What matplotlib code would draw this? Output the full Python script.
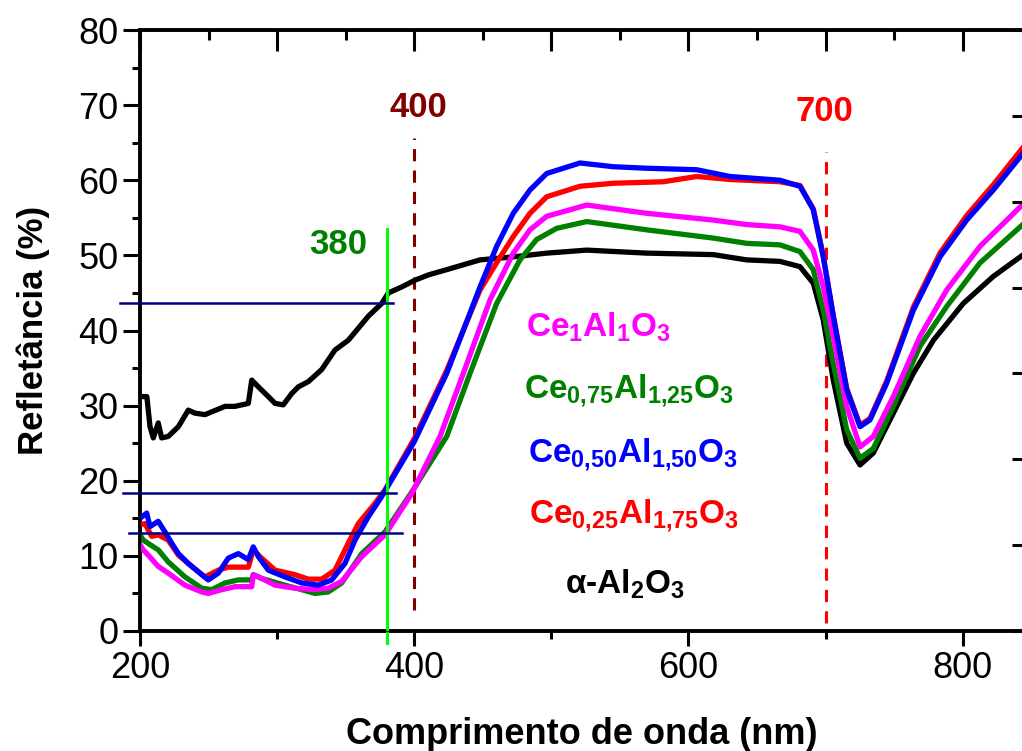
import matplotlib
matplotlib.use("Agg")
import matplotlib.pyplot as plt
from matplotlib.ticker import MultipleLocator


plt.rcParams['font.family'] = ['Liberation Sans', 'DejaVu Sans']
plt.rcParams['mathtext.fontset'] = 'custom'
plt.rcParams['mathtext.rm'] = 'Liberation Sans'
plt.rcParams['mathtext.bf'] = 'Liberation Sans:bold'
plt.rcParams['mathtext.default'] = 'bf'

#### data (wavelength nm, reflectance %) ####
wl_black = [201, 205, 207.3, 209.7, 213.3, 215.8, 220.6, 228, 235.2, 240, 247.4, 262, 269.3,
            279, 281.5, 286.3, 293.6, 298.5, 304.5, 310.6, 315.5, 322.8, 332.5, 342.2, 351.9,
            359.2, 366.5, 376.3, 381.1, 390.9, 400.6, 410.3, 423.7, 448, 472.2, 496.6, 525.8,
            569.5, 618.1, 642.5, 666.7, 681.3, 691, 698.3, 705.6, 715.4, 725.1, 734.8, 749.4,
            764, 778.6, 800.4, 822.3, 845]
r_black = [31.2, 31.2, 27.2, 25.7, 27.7, 25.7, 25.9, 27.2, 29.4, 29.0, 28.8, 29.9, 29.9,
           30.3, 33.4, 32.5, 31.2, 30.3, 30.1, 31.6, 32.5, 33.2, 34.8, 37.4, 38.7,
           40.3, 41.9, 43.6, 45.0, 45.8, 46.7, 47.4, 48.1, 49.4, 49.8, 50.3, 50.7,
           50.3, 50.1, 49.4, 49.2, 48.5, 46.3, 41.4, 33.4, 25.0, 22.1, 23.7, 29.0,
           34.3, 38.7, 43.6, 47.2, 50.2]

wl_blue = [200, 204.9, 207.3, 213.3, 218.2, 223.1, 228, 235.2, 245, 249.8, 257.1, 264.4, 271.7,
           279, 282.6, 286.3, 293.6, 305.7, 317.9, 330, 339.8, 349.5, 356.8, 366.5, 376.3,
           400, 423.7, 448, 460.1, 472.2, 484.4, 496.6, 520.9, 545.2, 569.5, 606, 630.3,
           666.7, 681.3, 691, 698.3, 705.6, 715.4, 725.1, 732.4, 744.6, 764, 783.4, 802.9,
           822.3, 845]
r_blue = [15.0, 15.7, 13.9, 14.6, 13.2, 11.7, 10.3, 9.0, 7.5, 6.8, 7.7, 9.7, 10.3,
          9.5, 11.2, 9.9, 8.1, 7.2, 6.4, 6.1, 6.8, 9.0, 12.1, 15.2, 17.9,
          25.2, 34.3, 45.8, 51.2, 55.6, 58.7, 60.9, 62.3, 61.8, 61.6, 61.4, 60.5,
          60.0, 59.2, 56.1, 49.8, 41.9, 32.1, 27.2, 28.1, 33.0, 42.7, 49.8, 54.7,
          58.7, 63.8]

wl_red = [200, 203.6, 208.5, 213.3, 220.6, 228, 237.7, 247.4, 257.1, 264.4, 279, 282.6, 288.7,
          298.5, 313, 322.8, 332.5, 342.2, 351.9, 359.2, 371.4, 378.7, 400, 423.7, 448,
          460, 472.2, 484.4, 496.6, 520.9, 545.2, 581.6, 606, 630.3, 666.7, 681.3, 691,
          698.3, 705.6, 715.4, 725.1, 732.4, 744.6, 764, 783.4, 802.9, 822.3, 845]
r_red = [14.1, 14.3, 12.6, 12.8, 12.1, 10.1, 8.6, 7.2, 8.1, 8.5, 8.5, 10.8, 9.7,
         8.1, 7.5, 6.9, 6.9, 8.1, 11.7, 14.3, 17.0, 18.8, 25.6, 34.7, 45.4,
         49.0, 52.5, 55.6, 57.8, 59.2, 59.6, 59.8, 60.5, 60.1, 59.8, 59.3, 56.2,
         49.9, 42.0, 32.3, 27.4, 28.3, 33.3, 43.1, 50.3, 55.3, 59.4, 64.6]

wl_mag = [200, 202.4, 206, 213.3, 220.6, 232.8, 245, 249.8, 259.6, 269.3, 281.5, 282.6, 288.7,
          298.5, 313, 327.6, 337.3, 347.1, 361.7, 378.7, 398.2, 418.8, 435.8, 455.3, 472.2,
          484.4, 496.6, 525.8, 569.5, 618.1, 642.5, 666.7, 681.3, 691, 698.3, 705.6, 715.4,
          725.1, 734.8, 749.4, 768.8, 788.3, 812.6, 845]
r_mag = [11.5, 10.8, 10.1, 8.6, 7.7, 6.1, 5.2, 5.0, 5.5, 5.9, 5.9, 7.5, 7.0,
         6.1, 5.7, 5.5, 5.7, 6.6, 9.9, 12.8, 18.3, 25.9, 34.3, 44.1, 50.3,
         53.4, 55.2, 56.7, 55.6, 54.7, 54.1, 53.8, 53.2, 50.7, 45.8, 39.2, 29.9,
         24.5, 25.9, 31.2, 39.2, 45.4, 51.2, 57.0]

wl_green = [200, 202.4, 207.3, 213.3, 220.6, 232.8, 245, 252.3, 262, 271.7, 281.5, 282.6, 288.7,
            305.7, 317.9, 327.6, 337.3, 347.1, 361.7, 378.7, 398.2, 423.7, 440.7, 460.1, 477.1,
            489.2, 503.9, 525.8, 569.5, 618.1, 642.5, 666.7, 681.3, 691, 698.3, 705.6, 715.4,
            725.1, 734.8, 749.4, 768.8, 788.3, 812.6, 845]
r_green = [12.8, 12.1, 11.5, 10.8, 9.2, 7.2, 5.7, 5.5, 6.4, 6.8, 6.8, 7.5, 7.0,
           6.1, 5.5, 5.0, 5.2, 6.4, 10.3, 13.2, 18.5, 25.9, 34.3, 43.6, 49.4,
           52.1, 53.6, 54.5, 53.4, 52.3, 51.6, 51.4, 50.5, 48.1, 42.7, 35.6, 26.8,
           23.0, 24.3, 29.9, 37.9, 43.2, 49.0, 54.3]

labels = [r'Ce$_1$Al$_1$O$_3$', r'Ce$_{0{,}75}$Al$_{1{,}25}$O$_3$', r'Ce$_{0{,}50}$Al$_{1{,}50}$O$_3$',
          r'Ce$_{0{,}25}$Al$_{1{,}75}$O$_3$', r'α-Al$_2$O$_3$']
label_colors = ['#FF00FF', '#008000', '#0000FF', '#FF0000', 'black']
label_x = [481.6, 480, 483.2, 484, 510]
label_y = [39.2, 31.0, 22.5, 14.3, 5.0]

guide_levels = [43.7, 18.4, 13.05]   # navy lines at 380 nm
guide_start = [185.4, 187.4, 192]
guide_end = [384.5, 386.5, 390.8]


fig = plt.figure(figsize=(10.22, 7.51), dpi=100)
ax = fig.add_axes([140/1022, 1-631/751, 883/1022, 601/751])

lw = 3.8
ax.plot(wl_black, r_black, color='black', lw=lw, zorder=3)
ax.plot(wl_green, r_green, color='#008000', lw=lw, zorder=4)
ax.plot(wl_mag, r_mag, color='#FF00FF', lw=lw, zorder=5)
ax.plot(wl_red, r_red, color='#FF0000', lw=lw, zorder=6)
ax.plot(wl_blue, r_blue, color='#0000FF', lw=lw, zorder=7)

# reference marks
ax.plot([400, 400], [2.8, 65.6], color='#800000', lw=2.2, dashes=(4, 3), zorder=2)
ax.plot([700, 700], [1.0, 63.7], color='#FF0000', lw=2.2, dashes=(4, 3), zorder=2)
ax.plot([380, 380], [-1.6, 53.5], color='#00FF00', lw=2.2, zorder=8, clip_on=False)
for lvl, x0, x1 in zip(guide_levels, guide_start, guide_end):
    ax.plot([x0, x1], [lvl, lvl], color='#000080', lw=1.8, zorder=9, clip_on=False)

ax.text(402.8, 69.7, '400', color='#800000', fontsize=25, fontweight='bold', ha='center', va='center')
ax.text(698.8, 69.2, '700', color='#FF0000', fontsize=25, fontweight='bold', ha='center', va='center')
ax.text(344.4, 51.5, '380', color='#008000', fontsize=25, fontweight='bold', ha='center', va='center')

for txt, c, x, y in zip(labels, label_colors, label_x, label_y):
    ax.text(x, y, txt, color=c, fontsize=24, fontweight='bold', ha='left', va='baseline', zorder=10)

ax.set_xlim(200, 200 + 883/1.3712)
ax.set_ylim(0, 80)
ax.xaxis.set_major_locator(MultipleLocator(200))
ax.xaxis.set_minor_locator(MultipleLocator(100))
ax.yaxis.set_major_locator(MultipleLocator(10))
ax.yaxis.set_minor_locator(MultipleLocator(5))
ax.tick_params(which='both', direction='out', width=2.2, labelsize=26, top=False, right=False)
ax.tick_params(which='major', length=11)
ax.tick_params(which='minor', length=5.5)
ax.tick_params(axis='y', which='major', length=12)
for s in ax.spines.values():
    s.set_linewidth(2.8)

ax.set_xlabel('Comprimento de onda (nm)', fontsize=26, fontweight='bold', labelpad=22)
ax.set_ylabel('Refletância (%)', fontsize=25, fontweight='bold', labelpad=20)

# top and right axes (ticks only)
axt = ax.twiny()
axt.set_xlim(ax.get_xlim())
axt.xaxis.set_major_locator(MultipleLocator(100))
axt.xaxis.set_minor_locator(MultipleLocator(50))
axt.tick_params(which='both', direction='in', width=2.2, labeltop=False)
axt.tick_params(which='major', length=15)
axt.tick_params(which='minor', length=7)

axr = ax.twinx()
axr.set_ylim(0, 7)
axr.yaxis.set_major_locator(MultipleLocator(1))
axr.tick_params(direction='in', width=2.2, length=8, labelright=False)
axr.yaxis.set_minor_locator(plt.NullLocator())

fig.savefig('out.png', dpi=100)
